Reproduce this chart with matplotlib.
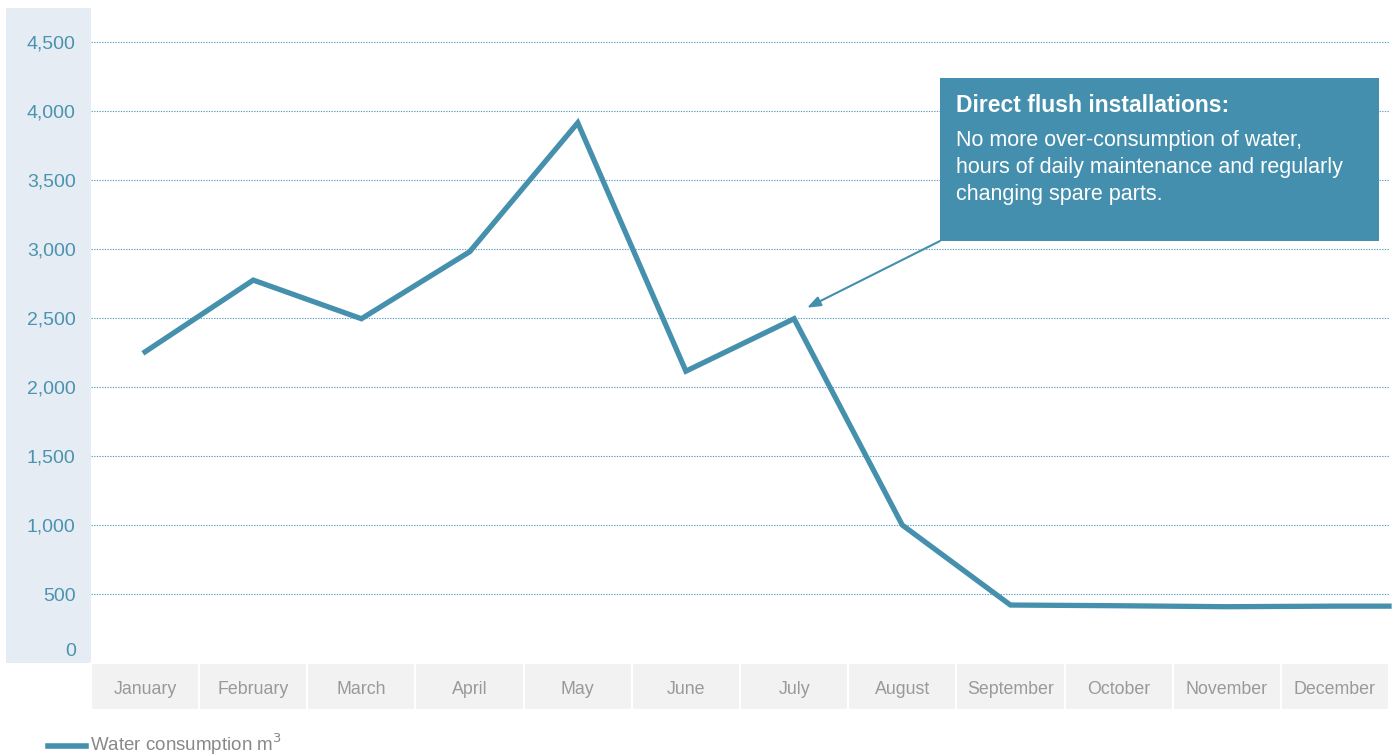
import matplotlib.pyplot as plt
from matplotlib.patches import Rectangle
from matplotlib.lines import Line2D
import matplotlib.transforms as mtransforms

plt.rcParams['font.family'] = ['Liberation Sans', 'DejaVu Sans']

# monthly water consumption (m3)
months = ['January', 'February', 'March', 'April', 'May', 'June',
          'July', 'August', 'September', 'October', 'November', 'December']
consumption = [2255, 2775, 2495, 2980, 3915, 2115,
               2495, 1000, 420, 415, 408, 412]
y_ticks = [0, 500, 1000, 1500, 2000, 2500, 3000, 3500, 4000, 4500]

line_color = '#4590ad'
box_color = '#438fad'
tick_blue = '#4a93b0'
band_color = '#e6ecf3'
cell_color = '#f2f2f2'

W, H = 1395, 755
fig = plt.figure(figsize=(W / 100, H / 100), dpi=100)
fig.patch.set_facecolor('white')

# axes placed in pixel terms
left, right, top, bottom = 91, 1389, 8, 663
ax = fig.add_axes([left / W, (H - bottom) / H, (right - left) / W, (bottom - top) / H])
ax.set_xlim(-0.5, 11.5)
ax.set_ylim(0, 4747)
for s in ax.spines.values():
    s.set_visible(False)
ax.set_facecolor('none')

# shaded y-axis band (behind the tick labels)
ax.add_patch(Rectangle((6 / W, (H - bottom) / H), (left - 6) / W, (bottom - top) / H,
                       transform=fig.transFigure, facecolor=band_color,
                       edgecolor='none', zorder=0, clip_on=False))

ax.set_yticks(y_ticks)
ax.set_yticklabels([f'{v:,}' for v in y_ticks])
ax.tick_params(axis='y', length=0, pad=11, labelsize=14, labelcolor=tick_blue)
# the zero label sits a little above the baseline
zero_lbl = ax.get_yticklabels()[0]
zero_lbl.set_transform(zero_lbl.get_transform() +
                       mtransforms.ScaledTranslation(0, 13 / 100, fig.dpi_scale_trans))
for v in y_ticks[1:]:
    ax.axhline(v, color='#5a9fbf', lw=0.8, ls=(0, (1.2, 1.2)), zorder=1)

# month cells beneath the plot
ax.set_xticks([])
cell_tr = mtransforms.blended_transform_factory(ax.transData, fig.transFigure)
cell_h = 47 / H
cell_y0 = (H - bottom - 47) / H
for i, m in enumerate(months):
    ax.add_patch(Rectangle((i - 0.5, cell_y0), 1, cell_h, transform=cell_tr,
                           facecolor=cell_color, edgecolor='white', lw=1.5,
                           clip_on=False))
    ax.text(i, cell_y0 + cell_h / 2 - 3 / H, m, transform=cell_tr, ha='center', va='center',
            fontsize=12.8, color='#999999')

# consumption line, carried flat to the right edge
xs = list(range(len(months))) + [11.5]
ys = consumption + [consumption[-1]]
ax.plot(xs, ys, color=line_color, lw=3.8, solid_joinstyle='miter', zorder=3,
        clip_on=False)

# callout box
bx0, by0, bx1, by1 = 940, 78, 1379, 241
fig.patches.append(Rectangle((bx0 / W, (H - by1) / H), (bx1 - bx0) / W, (by1 - by0) / H,
                             transform=fig.transFigure, facecolor=box_color,
                             edgecolor='none', zorder=4))
fig.text(956 / W, (H - 105) / H, 'Direct flush installations:', ha='left', va='center',
         fontsize=16.5, fontweight='bold', color='white', zorder=5)
fig.text(956 / W, (H - 130) / H,
         'No more over-consumption of water,\nhours of daily maintenance and regularly\nchanging spare parts.',
         ha='left', va='top', fontsize=15.5, color='white', linespacing=1.37, zorder=5)

ax.annotate('', xy=(6.12, consumption[6] + 80), xycoords='data',
            xytext=(bx0 / W, (H - by1) / H), textcoords='figure fraction',
            arrowprops=dict(arrowstyle='-|>,head_length=0.8,head_width=0.3',
                            color=box_color, lw=1.5, shrinkA=0, shrinkB=0),
            zorder=4)

# legend at the foot
fig.add_artist(Line2D([48 / W, 86 / W], [(H - 746) / H] * 2, transform=fig.transFigure,
                      color=line_color, lw=4))
fig.text(90 / W, (H - 744) / H, 'Water consumption m$^3$', ha='left', va='center',
         fontsize=13.5, color='#888888')

fig.savefig('out.png', dpi=100, facecolor='white')
